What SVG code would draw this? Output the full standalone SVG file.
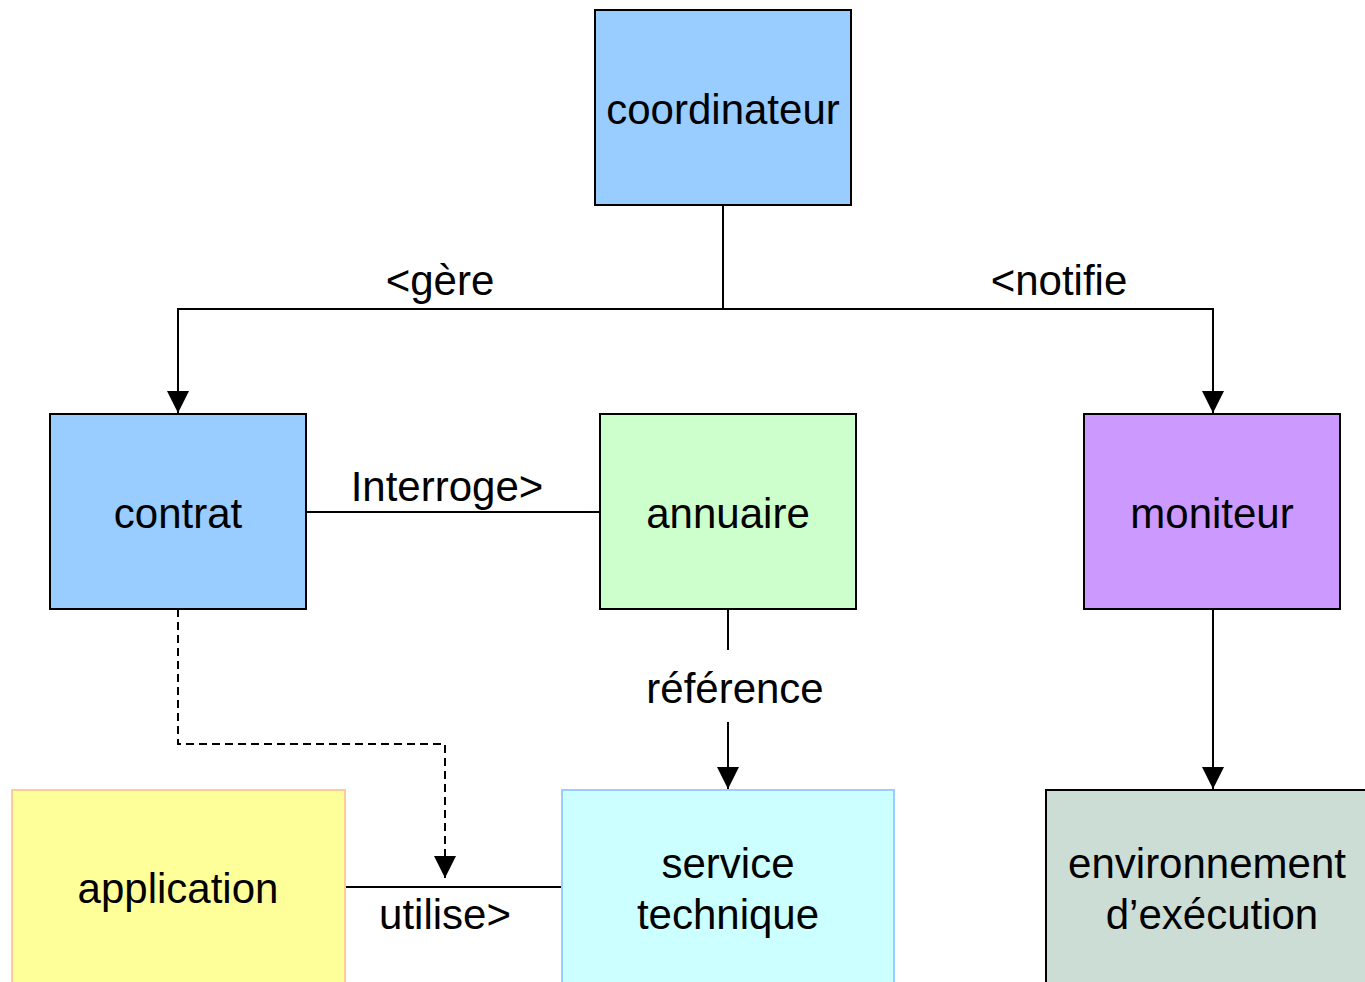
<svg xmlns="http://www.w3.org/2000/svg" width="1365" height="982" viewBox="0 0 1365 982">
<style>
.n{stroke:#000;stroke-width:2}
.t{font-family:"Liberation Sans",Arial,sans-serif;font-size:42px;fill:#000;text-anchor:middle}
.c{fill:none;stroke:#000;stroke-width:2}
.d{stroke-dasharray:8,5}
</style>
<defs>
<marker id="a" markerUnits="userSpaceOnUse" markerWidth="22" markerHeight="22" viewBox="0 0 20 20" refX="20" refY="10" orient="auto">
<path d="M0,0 L20,10 L0,20 Z" fill="#000"/>
</marker>
</defs>
<rect width="1365" height="982" fill="#fff"/>
<g id="connectors">
<path class="c" d="M723,205 V309"/>
<path class="c" d="M723,309 H178 V413" marker-end="url(#a)"/>
<path class="c" d="M723,309 H1213 V413" marker-end="url(#a)"/>
<path class="c" d="M306,512 H600"/>
<path class="c" d="M728,609 V650"/>
<path class="c" d="M728,722 V789" marker-end="url(#a)"/>
<path class="c" d="M1213,609 V789" marker-end="url(#a)"/>
<path class="c d" d="M178,609 V744 H445 V878" marker-end="url(#a)"/>
<path class="c" d="M345,887 H562"/>
<text class="t" x="440" y="295">&lt;gère</text>
<text class="t" x="1059" y="295">&lt;notifie</text>
<text class="t" x="447" y="501">Interroge&gt;</text>
<text class="t" x="735" y="703">référence</text>
<text class="t" x="445" y="929">utilise&gt;</text>
</g>
<g id="coordinateur">
<rect class="n" x="595" y="10" width="256" height="195" fill="#99CCFF"/>
<text class="t" x="723" y="124">coordinateur</text>
</g>
<g id="contrat">
<rect class="n" x="50" y="414" width="256" height="195" fill="#99CCFF"/>
<text class="t" x="178" y="528">contrat</text>
</g>
<g id="annuaire">
<rect class="n" x="600" y="414" width="256" height="195" fill="#CCFFCC"/>
<text class="t" x="728" y="528">annuaire</text>
</g>
<g id="moniteur">
<rect class="n" x="1084" y="414" width="256" height="195" fill="#CC99FF"/>
<text class="t" x="1212" y="528">moniteur</text>
</g>
<g id="application">
<rect x="12" y="790" width="333" height="200" fill="#FFFF99" stroke="#FFCC99" stroke-width="2"/>
<text class="t" x="178" y="903">application</text>
</g>
<g id="service">
<rect x="562" y="790" width="332" height="200" fill="#CCFFFF" stroke="#99CCFF" stroke-width="2"/>
<text class="t" x="728" y="878">service</text>
<text class="t" x="728" y="929">technique</text>
</g>
<g id="environnement">
<rect class="n" x="1046" y="790" width="330" height="200" fill="#CCDDD6"/>
<text class="t" x="1207" y="878">environnement</text>
<text class="t" x="1212" y="929">d’exécution</text>
</g>
</svg>
